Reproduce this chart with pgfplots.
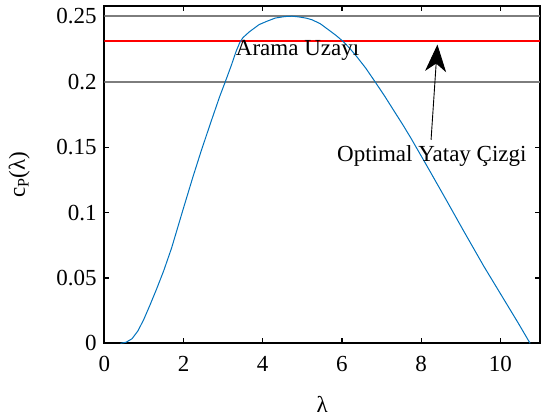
\documentclass[border=0pt]{standalone}
\usepackage{fontspec}
\setmainfont{Liberation Serif}
\usepackage{pgfplots}
\pgfplotsset{compat=1.18}
\usetikzlibrary{arrows.meta}
\definecolor{mblue}{RGB}{0,114,189}
\definecolor{mgray}{RGB}{125,125,125}
\definecolor{mred}{RGB}{255,0,0}
\begin{document}
\fontsize{23bp}{27bp}\selectfont
\begin{tikzpicture}
\begin{axis}[
  at={(0,0)}, anchor=south west,
  width=435.7bp, height=337.3bp, scale only axis,
  xmin=0, xmax=11, ymin=0, ymax=0.258,
  xtick={0,2,4,6,8,10},
  ytick={0,0.05,0.1,0.15,0.2,0.25},
  yticklabels={0,0.05,0.1,0.15,0.2,0.25},
  tick align=inside, major tick length=5bp,
  tick style={black, line width=1.2bp},
  axis line style={black, line width=2bp},
  /pgf/number format/assume math mode=true,
  every tick label/.append style={font=\fontsize{23bp}{27bp}\selectfont},
  xticklabel style={anchor=center, yshift=-21bp, inner sep=0pt},
  yticklabel style={anchor=east, xshift=-7.5bp, inner sep=0pt},
  xlabel={λ},
  xlabel style={font=\fontsize{23bp}{27bp}\selectfont, at={(axis description cs:0.5,-0.1808)}, anchor=center, inner sep=0pt},
]
\addplot[color=mgray, line width=2bp] coordinates {(0,0.2) (11,0.2)};
\addplot[color=mgray, line width=2bp] coordinates {(0,0.25) (11,0.25)};
\addplot[color=mred, line width=2bp] coordinates {(0,0.231) (11,0.231)};
\addplot[color=mblue, line width=1bp] coordinates {
(0.41,0) (0.55,0.0008) (0.70,0.0035) (0.85,0.0095) (1.00,0.0185) (1.15,0.029)
(1.32,0.0415) (1.50,0.0555) (1.70,0.073) (1.99,0.1025) (2.24,0.1275) (2.45,0.1475)
(2.70,0.170) (2.91,0.1885) (3.06,0.2005) (3.20,0.212) (3.33,0.2235) (3.42,0.2300)
(3.50,0.2338) (3.66,0.2382) (3.91,0.2438) (4.12,0.2465) (4.32,0.2488) (4.55,0.2499)
(4.74,0.2502) (4.90,0.2497) (5.10,0.2487) (5.24,0.2475) (5.45,0.2445) (5.66,0.2398)
(5.85,0.2355) (6.03,0.2309) (6.20,0.2255) (6.37,0.2194) (6.60,0.2105) (6.83,0.2003)
(7.08,0.1890) (7.33,0.177) (7.54,0.1670) (7.74,0.157) (8.12,0.137) (8.58,0.1125)
(9.08,0.0855) (9.58,0.059) (10.09,0.0335) (10.45,0.0155) (10.75,0)
};
\node[anchor=base, inner sep=0pt, font=\fontsize{23bp}{27bp}\selectfont] at (axis cs:4.88,0.22) {Arama Uzayı};
\node[anchor=base, inner sep=0pt, font=\fontsize{23bp}{27bp}\selectfont] at (axis cs:8.27,0.139) {Optimal Yatay Çizgi};
\draw[black, line width=0.9bp, -{Stealth[length=27bp, width=21bp, inset=8bp]}] (axis cs:8.25,0.1557) -- (axis cs:8.41,0.2285);
\end{axis}
\node[rotate=89.99, anchor=center, inner sep=0pt, font=\fontsize{23bp}{27bp}\selectfont] at (-85bp,168.65bp) {c\textsubscript{P}(λ)};
\pgfresetboundingbox
\useasboundingbox (-104.3bp,-76.7bp) rectangle (436.7bp,343.3bp);
\end{tikzpicture}
\end{document}
